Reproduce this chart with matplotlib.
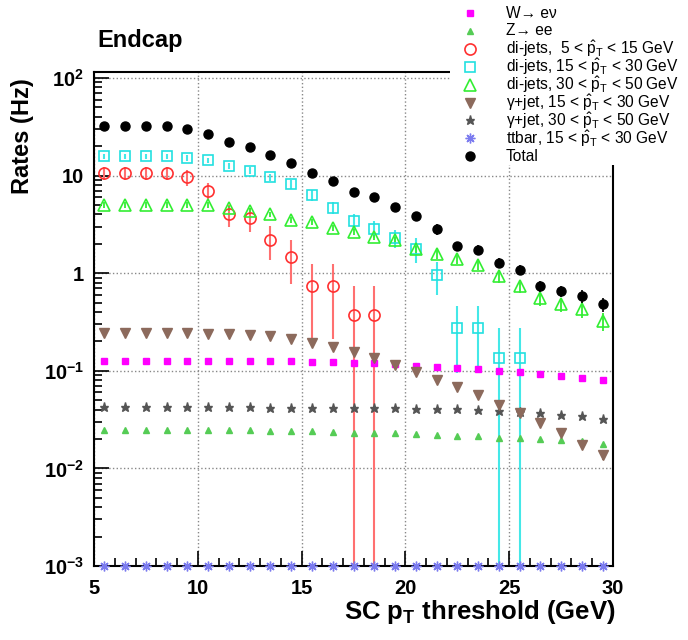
import numpy as np
import matplotlib
matplotlib.use("Agg")
import matplotlib.pyplot as plt
from matplotlib.lines import Line2D
from matplotlib.patches import Rectangle
from matplotlib.ticker import FixedLocator, MultipleLocator, LogLocator, NullFormatter

plt.rcParams["font.family"] = ["Liberation Sans", "DejaVu Sans"]
plt.rcParams["mathtext.fontset"] = "custom"
plt.rcParams["mathtext.rm"] = "Liberation Sans"
plt.rcParams["mathtext.bf"] = "Liberation Sans:bold"
plt.rcParams["mathtext.it"] = "Liberation Sans:italic"

# thresholds (bin centres)
pt = [5.5, 6.5, 7.5, 8.5, 9.5, 10.5, 11.5, 12.5, 13.5, 14.5, 15.5, 16.5, 17.5,
      18.5, 19.5, 20.5, 21.5, 22.5, 23.5, 24.5, 25.5, 26.5, 27.5, 28.5, 29.5]

w_enu = [0.127, 0.127, 0.127, 0.127, 0.127, 0.127, 0.126, 0.125, 0.125, 0.125, 0.124, 0.122, 0.120,
         0.119, 0.116, 0.113, 0.110, 0.107, 0.105, 0.100, 0.097, 0.093, 0.089, 0.085, 0.081]
z_ee = [0.0249, 0.0249, 0.0249, 0.0249, 0.0249, 0.0249, 0.0246, 0.0245, 0.0244, 0.0243, 0.0240, 0.0237, 0.0233,
        0.0232, 0.0228, 0.0223, 0.0220, 0.0216, 0.0213, 0.0206, 0.0203, 0.0198, 0.0195, 0.0190, 0.0178]

dijet_5_15 = [10.6, 10.6, 10.6, 10.6, 9.55, 7.0, 4.0, 3.65, 2.2, 1.48, 0.73, 0.73, 0.37, 0.37]
dijet_5_15_err = [1.7, 1.7, 1.7, 1.7, 1.8, 1.4, 1.0, 1.0, 0.85, 0.7, 0.52, 0.52, 0.37, 0.37]

dijet_15_30 = [15.7, 15.7, 15.7, 15.7, 15.1, 14.3, 12.6, 11.2, 9.55, 8.1, 6.3, 4.7, 3.4,
               2.86, 2.3, 1.78, 0.95, 0.276, 0.276, 0.136, 0.136]
dijet_15_30_err = [1.0, 1.0, 1.0, 1.0, 1.0, 1.0, 0.9, 0.9, 0.8, 0.8, 0.8, 0.7, 0.6,
                   0.55, 0.5, 0.5, 0.35, 0.18, 0.18, 0.136, 0.136]

dijet_30_50 = [5.0, 5.0, 5.0, 5.0, 5.0, 5.0, 4.6, 4.35, 4.0, 3.5, 3.35, 2.93, 2.64,
               2.37, 2.17, 1.75, 1.56, 1.39, 1.22, 0.93, 0.74, 0.55, 0.48, 0.425, 0.325]
dijet_30_50_err = [0.3, 0.3, 0.3, 0.3, 0.3, 0.3, 0.28, 0.27, 0.26, 0.24, 0.23, 0.21, 0.2,
                   0.19, 0.18, 0.16, 0.15, 0.14, 0.13, 0.13, 0.11, 0.09, 0.08, 0.08, 0.07]

gjet_15_30 = [0.241, 0.241, 0.241, 0.241, 0.241, 0.240, 0.240, 0.235, 0.226, 0.212, 0.193, 0.174, 0.155,
              0.136, 0.115, 0.097, 0.080, 0.068, 0.056, 0.045, 0.037, 0.029, 0.023, 0.0175, 0.0138]
gjet_15_30_err = [0.004, 0.004, 0.004, 0.004, 0.004, 0.004, 0.004, 0.004, 0.004, 0.004, 0.004, 0.004, 0.004,
                  0.003, 0.003, 0.003, 0.003, 0.003, 0.003, 0.003, 0.0025, 0.0025, 0.002, 0.0018, 0.0015]

gjet_30_50 = [0.0422, 0.0422, 0.0422, 0.0422, 0.0422, 0.0422, 0.0421, 0.0421, 0.0420, 0.0420, 0.0419, 0.0418, 0.0417,
              0.0416, 0.0413, 0.0410, 0.0408, 0.0405, 0.0400, 0.0385, 0.0380, 0.0365, 0.0355, 0.0345, 0.0322]

ttbar = [1e-3] * 25

total = [31.9, 31.9, 31.9, 31.9, 30.2, 26.4, 22.0, 19.7, 16.2, 13.4, 10.7, 8.7, 6.8,
         6.0, 4.8, 3.83, 2.82, 1.9, 1.73, 1.28, 1.08, 0.74, 0.655, 0.59, 0.48]
total_err = [1.0, 1.0, 1.0, 1.0, 1.0, 1.0, 0.9, 0.9, 0.8, 0.7, 0.6, 0.55, 0.5,
             0.45, 0.45, 0.4, 0.35, 0.2, 0.2, 0.15, 0.13, 0.1, 0.09, 0.09, 0.08]

ph = r"$\hat{\mathrm{p}}_{\mathrm{T}}$"
legend_labels = [
    "W\u2192 e\u03bd",
    "Z\u2192 ee",
    "di-jets,  5 < " + ph + " < 15 GeV",
    "di-jets, 15 < " + ph + " < 30 GeV",
    "di-jets, 30 < " + ph + " < 50 GeV",
    "\u03b3+jet, 15 < " + ph + " < 30 GeV",
    "\u03b3+jet, 30 < " + ph + " < 50 GeV",
    "ttbar, 15 < " + ph + " < 30 GeV",
    "Total",
]

# marker styles, same order as the legend
styles = [
    dict(marker="s", ms=4.5, color="#ff00ff"),
    dict(marker="^", ms=5, color="#55cc55"),
    dict(marker="o", ms=8, mfc="none", mec="#ff3030", mew=1.2),
    dict(marker="s", ms=7.5, mfc="none", mec="#22e0e0", mew=1.2),
    dict(marker="^", ms=8, mfc="none", mec="#33ee33", mew=1.2),
    dict(marker="v", ms=6.5, color="#8c6a5c"),
    dict(marker="*", ms=6.5, color="#555555"),
    dict(marker=(8, 2, 0), ms=7, mec="#7b7bef", mew=1.0),
    dict(marker="o", ms=6.5, color="black"),
]


def low_err(y, e):
    y = np.asarray(y)
    e = np.asarray(e)
    return [np.minimum(e, y * 0.99999), e]


fig = plt.figure(figsize=(6.88, 6.40), dpi=100)
ax = fig.add_axes([94 / 688, 1 - 566 / 640, (613 - 94) / 688, (566 - 72) / 640])
ax.set_yscale("log")
ax.set_xlim(5, 30)
ax.set_ylim(1e-3, 115)

n1 = len(dijet_5_15)
n2 = len(dijet_15_30)

ax.errorbar(pt[:n1], dijet_5_15, yerr=low_err(dijet_5_15, dijet_5_15_err), ls="none", **styles[2],
            ecolor="#ff7070", elinewidth=1.5, capsize=0, zorder=3)
ax.errorbar(pt[:n2], dijet_15_30, yerr=low_err(dijet_15_30, dijet_15_30_err), ls="none", **styles[3],
            ecolor="#44e8e8", elinewidth=1.5, capsize=0, zorder=3)
ax.errorbar(pt, dijet_30_50, yerr=dijet_30_50_err, ls="none", **styles[4],
            ecolor="#33ee33", elinewidth=1.3, capsize=0, zorder=3)
ax.errorbar(pt, gjet_15_30, yerr=gjet_15_30_err, ls="none", **styles[5],
            ecolor="#8c6a5c", elinewidth=1.2, capsize=0, zorder=3)
ax.plot(pt, w_enu, ls="none", zorder=3, **styles[0])
ax.plot(pt, z_ee, ls="none", zorder=3, **styles[1])
ax.plot(pt, gjet_30_50, ls="none", zorder=3, **styles[6])
ax.plot(pt, ttbar, ls="none", zorder=4, clip_on=False, **styles[7])
ax.errorbar(pt, total, yerr=total_err, ls="none", **styles[8], ecolor="black",
            elinewidth=1.2, capsize=0, zorder=4)

# axes style
ax.xaxis.set_major_locator(FixedLocator([5, 10, 15, 20, 25, 30]))
ax.xaxis.set_minor_locator(MultipleLocator(1))
ax.yaxis.set_major_locator(FixedLocator([1e-3, 1e-2, 1e-1, 1, 10, 100]))
ax.yaxis.set_minor_locator(LogLocator(base=10, subs=np.arange(2, 10)))
ax.yaxis.set_minor_formatter(NullFormatter())
ax.set_xticklabels(["5", "10", "15", "20", "25", "30"], fontsize=14.5, fontweight="bold")
ax.set_yticklabels([r"$\mathbf{10^{-3}}$", r"$\mathbf{10^{-2}}$", r"$\mathbf{10^{-1}}$",
                    "1", "10", r"$\mathbf{10^{2}}$"], fontsize=14.5, fontweight="bold")
ax.tick_params(which="both", direction="in", top=False, right=False, width=1.2)
ax.tick_params(which="major", length=11)
ax.tick_params(axis="x", which="major", pad=9)
ax.tick_params(axis="y", which="major", pad=7)
ax.tick_params(which="minor", length=6)
ax.grid(which="major", color="#888888", linestyle=":", linewidth=1.0)
for s in ax.spines.values():
    s.set_linewidth(1.5)

fig.text(97 / 688, 1 - 40 / 640, "Endcap", fontsize=17, fontweight="bold", va="center", ha="left")
fig.text(23 / 688, 1 - 78 / 640, "Rates (Hz)", fontsize=17, fontweight="bold", rotation=90,
         va="top", ha="center")
fig.text(616 / 688, 1 - 612 / 640, r"SC p$_\mathbf{T}$ threshold (GeV)", fontsize=18.5,
         fontweight="bold", va="center", ha="right")

# legend box (white, no border) drawn over the top-right of the frame
fig.add_artist(Rectangle((450 / 688, 1 - 165 / 640), 238 / 688, 165 / 640,
                         transform=fig.transFigure, facecolor="white", edgecolor="none", zorder=5))
for i, (lab, st) in enumerate(zip(legend_labels, styles)):
    yy = 1 - (13 + 17.9 * i) / 640
    fig.add_artist(Line2D([470 / 688], [yy], ls="none", transform=fig.transFigure, zorder=6, **st))
    fig.text(506 / 688, yy, lab, fontsize=11.2, va="center", ha="left", zorder=6)

fig.savefig("out.png", dpi=100)
